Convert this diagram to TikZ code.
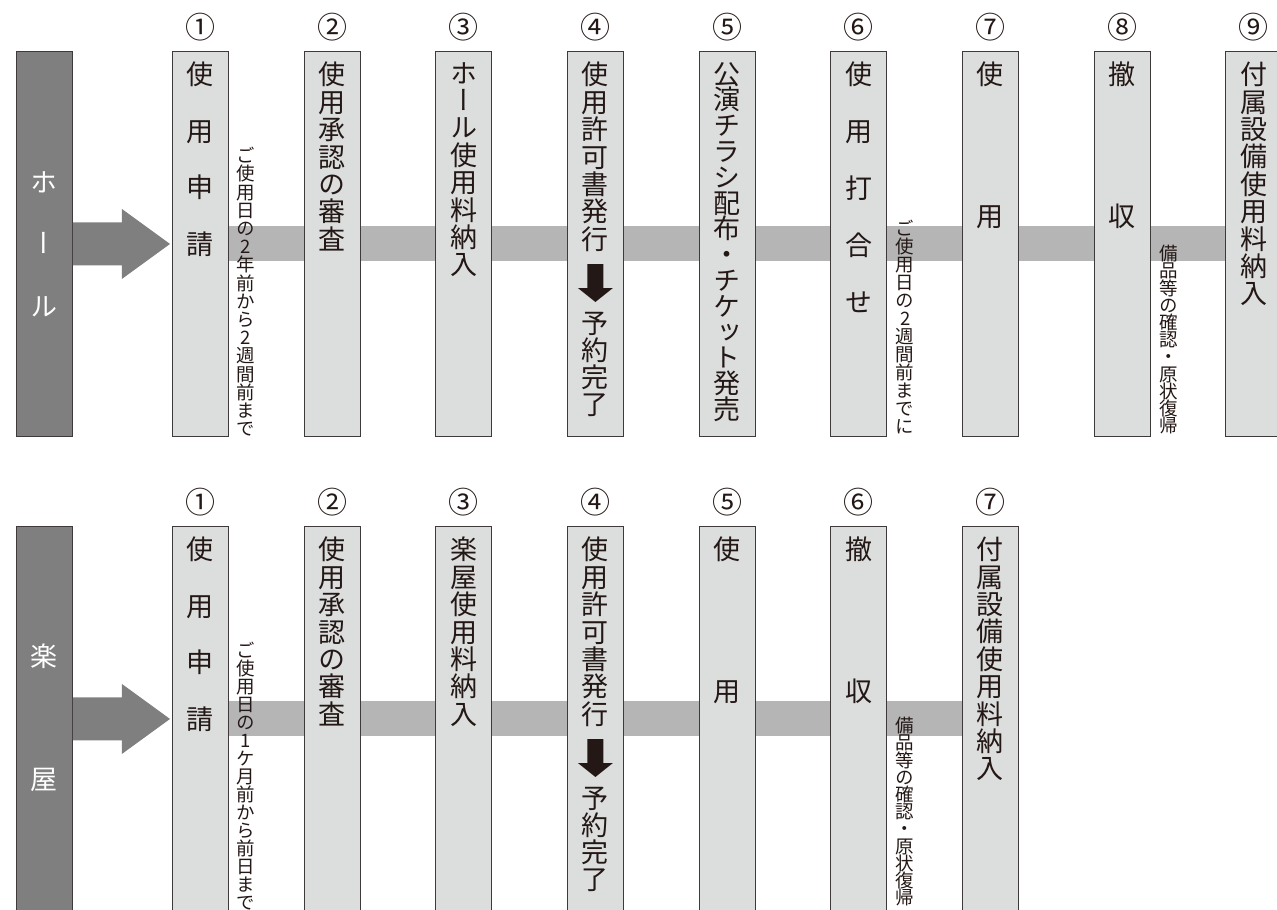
\documentclass[tikz,border=0pt]{standalone}
\usepackage{fontspec}
\newfontfamily\cjk{Noto Sans CJK JP}
\newfontfamily\cjkv[RawFeature=+vert]{Noto Sans CJK JP}
\usetikzlibrary{calc,backgrounds}
\definecolor{boxfill}{HTML}{DCDDDD}
\definecolor{bandc}{HTML}{B5B5B6}
\definecolor{hallc}{HTML}{7F7F7F}
\definecolor{linec}{HTML}{3E3A39}
\definecolor{txtc}{HTML}{231815}
\makeatletter
\newcommand\vstk[2]{\vbox{\baselineskip=#1\relax\lineskiplimit=-16000pt\lineskip=0pt\@tfor\vch:=#2\do{\hbox to 1em{\hss\vch\hss}}}}
\makeatother
\tikzset{
 stepbox/.style={draw=linec, fill=boxfill, line width=0.9pt, minimum width=56pt, minimum height=385pt, inner sep=0pt, anchor=north west},
 hallbox/.style={stepbox, fill=hallc},
 numlbl/.style={font=\cjk\fontsize{30}{30}\selectfont, text=txtc, inner sep=0pt},
 boxtxt/.style={font=\cjkv\fontsize{27}{27}\selectfont, text=txtc, inner sep=0pt, anchor=north},
 notetxt/.style={font=\cjkv\fontsize{18.5}{18.5}\selectfont, text=txtc, inner sep=0pt, anchor=north},
 halltxt/.style={font=\cjkv\fontsize{27}{27}\selectfont, text=white, inner sep=0pt},
 bigarrow/.style={fill=hallc},
 bandfill/.style={fill=bandc},
 downarrow/.style={fill=txtc},
}
\begin{document}
\begin{tikzpicture}[x=1pt,y=-1pt]
\useasboundingbox (0,0) rectangle (1277,910);
\clip (0,0) rectangle (1277,910);
% ---------- top row (hall) ----------
\node[hallbox] (hall) at (16,51) {};
\foreach \i/\c in {1/①,2/②,3/③,4/④,5/⑤,6/⑥,7/⑦,8/⑧,9/⑨}{
  \node[stepbox] (t\i) at ({172+(\i-1)*131.65},51) {};
  \node[numlbl] (tn\i) at ($(t\i.north)+(0,-24)$) {\c};
}
\begin{scope}[on background layer]
  \fill[bandfill] ($(t1.center)+(0,-17.5)$) rectangle ($(t9.center)+(0,17.5)$);
\end{scope}
\node[halltxt] (h1) at ($(hall.north)+(0,131)$) {ホ};
\node[halltxt] (h2) at ($(hall.north)+(0,192)$) {ー};
\node[halltxt] (h3) at ($(hall.north)+(0,256)$) {ル};
\fill[bigarrow] ($(hall.east)+(0,-21.5)$) -- ($(hall.east)+(49,-21.5)$) -- ($(hall.east)+(49,-35)$)
  -- ($(t1.west)+(-2,0)$) -- ($(hall.east)+(49,35)$) -- ($(hall.east)+(49,21.5)$) -- ($(hall.east)+(0,21.5)$) -- cycle;
\node[boxtxt] (t1x) at ($(t1.north)+(0,11)$) {\vstk{56.5pt}{使用申請}};
\node[boxtxt] (t2x) at ($(t2.north)+(0,11)$) {\vstk{27.4pt}{使用承認の審査}};
\node[boxtxt] (t3x) at ($(t3.north)+(0,11)$) {\vstk{27.4pt}{ホール使用料納入}};
\node[boxtxt] (t4x) at ($(t4.north)+(0,11)$) {\vstk{27.4pt}{使用許可書発行}};
\node[boxtxt] (t4y) at ($(t4.north)+(0,261)$) {\vstk{27pt}{予約完了}};
\node[boxtxt] (t5x) at ($(t5.north)+(0,11)$) {\vstk{25.8pt}{公演チラシ配布・チケット発売}};
\node[boxtxt] (t6x) at ($(t6.north)+(0,11)$) {\vstk{57pt}{使用打合せ}};
\node[boxtxt] (t7x) at ($(t7.north)+(0,11)$) {\vstk{141.5pt}{使用}};
\node[boxtxt] (t8x) at ($(t8.north)+(0,11)$) {\vstk{142pt}{撤収}};
\node[boxtxt] (t9x) at ($(t9.north)+(0,11)$) {\vstk{27.4pt}{付属設備使用料納入}};
\fill[downarrow] ($(t4.north)+(-8,213)$) -- ($(t4.north)+(8,213)$) -- ($(t4.north)+(8,237)$) -- ($(t4.north)+(17.5,237)$)
  -- ($(t4.north)+(0,251)$) -- ($(t4.north)+(-17.5,237)$) -- ($(t4.north)+(-8,237)$) -- cycle;
\node[notetxt] (tnote1) at ($(t1.north east)+(17,96)$) {\vstk{18.2pt}{ご使用日の2年前から2週間前まで}};
\node[notetxt] (tnote6) at ($(t6.north east)+(18,169)$) {\vstk{18pt}{ご使用日の2週間前までに}};
\node[notetxt] (tnote8) at ($(t8.north east)+(18,194)$) {\vstk{17.2pt}{備品等の確認・原状復帰}};
% ---------- bottom row (gakuya) ----------
\node[hallbox] (gaku) at (16,526) {};
\foreach \i/\c in {1/①,2/②,3/③,4/④,5/⑤,6/⑥,7/⑦}{
  \node[stepbox] (b\i) at ({172+(\i-1)*131.65},526) {};
  \node[numlbl] (bn\i) at ($(b\i.north)+(0,-24)$) {\c};
}
\begin{scope}[on background layer]
  \fill[bandfill] ($(b1.center)+(0,-17.5)$) rectangle ($(b7.center)+(0,17.5)$);
\end{scope}
\node[halltxt] (g1) at ($(gaku.north)+(0,130.5)$) {楽};
\node[halltxt] (g2) at ($(gaku.north)+(0,254)$) {屋};
\fill[bigarrow] ($(gaku.east)+(0,-21.5)$) -- ($(gaku.east)+(49,-21.5)$) -- ($(gaku.east)+(49,-35)$)
  -- ($(b1.west)+(-2,0)$) -- ($(gaku.east)+(49,35)$) -- ($(gaku.east)+(49,21.5)$) -- ($(gaku.east)+(0,21.5)$) -- cycle;
\node[boxtxt] (b1x) at ($(b1.north)+(0,11)$) {\vstk{56.5pt}{使用申請}};
\node[boxtxt] (b2x) at ($(b2.north)+(0,11)$) {\vstk{27.4pt}{使用承認の審査}};
\node[boxtxt] (b3x) at ($(b3.north)+(0,11)$) {\vstk{27.4pt}{楽屋使用料納入}};
\node[boxtxt] (b4x) at ($(b4.north)+(0,11)$) {\vstk{27.4pt}{使用許可書発行}};
\node[boxtxt] (b4y) at ($(b4.north)+(0,261)$) {\vstk{27pt}{予約完了}};
\node[boxtxt] (b5x) at ($(b5.north)+(0,11)$) {\vstk{141.5pt}{使用}};
\node[boxtxt] (b6x) at ($(b6.north)+(0,11)$) {\vstk{142pt}{撤収}};
\node[boxtxt] (b7x) at ($(b7.north)+(0,11)$) {\vstk{27.4pt}{付属設備使用料納入}};
\fill[downarrow] ($(b4.north)+(-8,213)$) -- ($(b4.north)+(8,213)$) -- ($(b4.north)+(8,237)$) -- ($(b4.north)+(17.5,237)$)
  -- ($(b4.north)+(0,251)$) -- ($(b4.north)+(-17.5,237)$) -- ($(b4.north)+(-8,237)$) -- cycle;
\node[notetxt] (bnote1) at ($(b1.north east)+(17,116)$) {\vstk{18pt}{ご使用日の1ケ月前から前日まで}};
\node[notetxt] (bnote6) at ($(b6.north east)+(18,191)$) {\vstk{17.2pt}{備品等の確認・原状復帰}};
\end{tikzpicture}
\end{document}
